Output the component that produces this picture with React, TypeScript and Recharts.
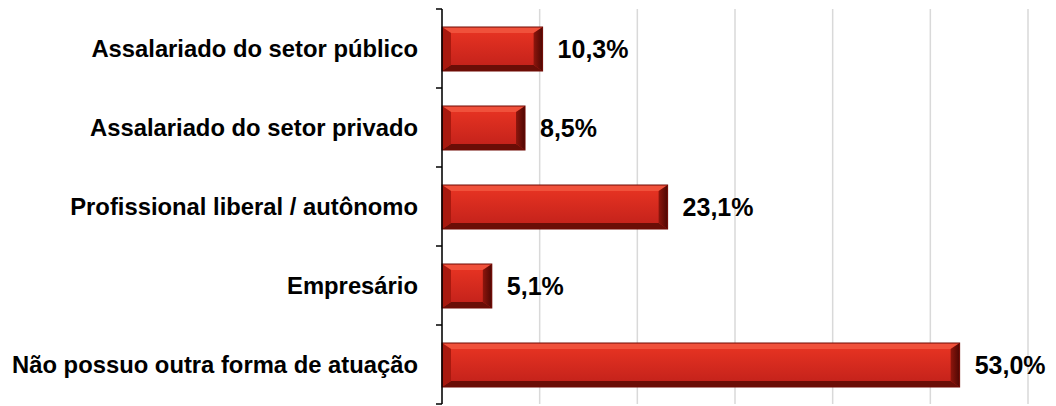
import { BarChart, Bar, XAxis, YAxis, CartesianGrid, LabelList } from "recharts"

const categories = [
  "Assalariado do setor público",
  "Assalariado do setor privado",
  "Profissional liberal / autônomo",
  "Empresário",
  "Não possuo outra forma de atuação",
]
const shares = [10.3, 8.5, 23.1, 5.1, 53.0]
const xTicks = [0, 10, 20, 30, 40, 50, 60]

const data = categories.map((name, i) => ({ name, value: shares[i] }))

const fmt = (v: number) => v.toFixed(1).replace(".", ",") + "%"

const FONT = "Arial, 'Liberation Sans', sans-serif"

// bar with an Excel-like bevel: light top edge, dark bottom and right edges
function BevelBar(props: any) {
  const { x, y, width: w, height: h } = props
  if (!w || w <= 0) return null
  const bx = Math.min(9, w / 2)
  const by = 6
  return (
    <g>
      <rect x={x} y={y} width={w} height={h} fill="url(#barFace)" />
      <polygon
        points={`${x},${y} ${x + w},${y} ${x + w - bx},${y + by} ${x + bx},${y + by}`}
        fill="#f0513b"
      />
      <polygon
        points={`${x},${y + h} ${x + w},${y + h} ${x + w - bx},${y + h - by} ${x + bx},${y + h - by}`}
        fill="#6a0e07"
      />
      <polygon
        points={`${x},${y} ${x + bx},${y + by} ${x + bx},${y + h - by} ${x},${y + h}`}
        fill="#a8190f"
      />
      <polygon
        points={`${x + w},${y} ${x + w - bx},${y + by} ${x + w - bx},${y + h - by} ${x + w},${y + h}`}
        fill="url(#barRight)"
      />
      <rect x={x} y={y} width={w} height={h} fill="none" stroke="#700b05" strokeWidth={1} />
    </g>
  )
}

function CategoryTick(props: any) {
  const { x, y, payload, index } = props
  const half = payload?.offset ?? 39.5
  return (
    <g>
      <line x1={x - 6} x2={x} y1={y - half} y2={y - half} stroke="#000" strokeWidth={1.5} />
      {index === categories.length - 1 && (
        <line x1={x - 6} x2={x} y1={y + half} y2={y + half} stroke="#000" strokeWidth={1.5} />
      )}
      <text
        x={x - 24}
        y={y}
        dy={8}
        textAnchor="end"
        fontFamily={FONT}
        fontWeight="bold"
        fontSize={23.8}
        fill="#000"
      >
        {payload.value}
      </text>
    </g>
  )
}

export default function App() {
  return (
    <div style={{ position: "absolute", left: 0, top: 0, width: 1056, height: 406, background: "#fff" }}>
      <BarChart
        width={1056}
        height={406}
        data={data}
        layout="vertical"
        margin={{ top: 9, right: 28, bottom: 2, left: 1 }}
      >
        <defs>
          <linearGradient id="barFace" x1="0" y1="0" x2="0" y2="1">
            <stop offset="0%" stopColor="#ea3523" />
            <stop offset="100%" stopColor="#c0201a" />
          </linearGradient>
          <linearGradient id="barRight" x1="0" y1="0" x2="1" y2="0">
            <stop offset="0%" stopColor="#8e160d" />
            <stop offset="100%" stopColor="#4e0703" />
          </linearGradient>
        </defs>
        <CartesianGrid horizontal={false} stroke="#d9d9d9" strokeWidth={1.5} />
        <XAxis type="number" domain={[0, 60]} ticks={xTicks} hide />
        <YAxis
          type="category"
          dataKey="name"
          width={441}
          axisLine={{ stroke: "#000", strokeWidth: 1.5 }}
          tickLine={false}
          tickSize={0}
          tickMargin={0}
          tick={<CategoryTick />}
          interval={0}
        />
        <Bar dataKey="value" barSize={44} shape={<BevelBar />} isAnimationActive={false}>
          <LabelList
            dataKey="value"
            position="right"
            offset={15}
            formatter={(v: any) => fmt(Number(v))}
            style={{ fontFamily: FONT, fontWeight: "bold", fontSize: 25, fill: "#000" }}
          />
        </Bar>
      </BarChart>
    </div>
  )
}
